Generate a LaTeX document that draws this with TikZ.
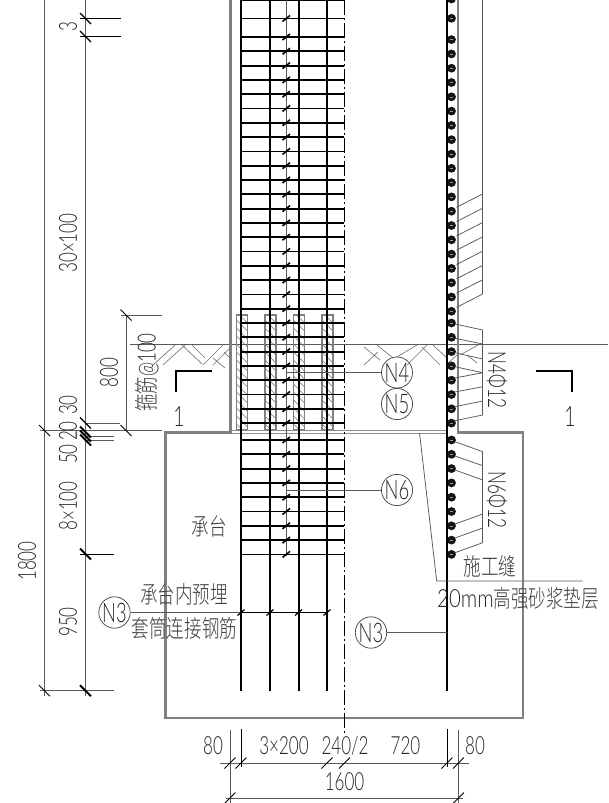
\documentclass[tikz,border=0pt]{standalone}
\usepackage{fontspec}
\newfontfamily\cad[FakeStretch=0.68]{Lato Light}
\newfontfamily\cjk[FakeStretch=0.73]{Noto Sans CJK SC Light}
\tikzset{
  x=1pt,y=-1pt,
  thinl/.style={line width=0.75pt,draw=black!65},
  blackl/.style={line width=0.8pt,draw=black},
  heavy/.style={line width=2pt,draw=black},
  greyl/.style={line width=2.2pt,draw=black!50},
  hatchl/.style={line width=0.65pt,draw=black!55},
  txt/.style={inner sep=0pt,text=black!85,font=\cad\fontsize{25}{25}\selectfont},
  cn/.style={inner sep=0pt,text=black!75,font=\cjk\fontsize{24}{24}\selectfont},
  ncirc/.style={circle,draw=black!70,line width=0.75pt,minimum size=31pt,inner sep=0pt,text=black!85,font=\cad\fontsize{27}{27}\selectfont},
  slashl/.style={line width=1.6pt,draw=black},
}
\newcommand{\tickb}[3]{\draw[line width=#3,draw=black] (#1-5.5,#2-5.5) -- (#1+5.5,#2+5.5);}
\newcommand{\tickf}[2]{\draw[blackl,line width=1pt] (#1-5.5,#2+5.5) -- (#1+5.5,#2-5.5);}
\newcommand{\rdot}[1]{\fill[black!92] (451.5,#1) circle (4.4);\draw[black!40,line width=.6pt] (450,#1) -- (453,#1);}
\begin{document}
\begin{tikzpicture}
\useasboundingbox (0,0) rectangle (608,803);
\clip (0,0) rectangle (608,803);
\fill[white] (0,0) rectangle (608,803);
% ground
\draw[thinl] (130,344) -- (608,344);
\draw[hatchl] (153,365)--(175,345) (163,365)--(185,345) (182,345)--(202,364) (192,345)--(205,358)
  (203,365)--(223,345) (213,365)--(230,348) (213,358)--(225,368) (224,352)--(232,360);
\draw[hatchl] (364,347)--(380,360) (377,345)--(393,358) (364,365)--(378,352)
  (407,365)--(427,345) (397,357)--(417,345) (422,347)--(440,365) (433,345)--(447,358)
  (448,363)--(457,355) (460,355)--(478,345) (467,355)--(477,363);
% sleeves
\foreach \sx in {236.5,265,293.5,322}{
  \begin{scope}
  \clip (\sx,315) rectangle (\sx+11,430);
  \foreach \k in {0,...,15}{\draw[hatchl] (\sx-3,309+\k*8) -- (\sx+13,325+\k*8);}
  \end{scope}
  \draw[line width=1.8pt,draw=black!50] (\sx,315) rectangle (\sx+11,430);
}
% cap and column
\draw[greyl] (230.5,0) -- (230.5,432.5) -- (165.5,432.5) -- (165.5,718) -- (523,718) -- (523,432.5) -- (458,432.5) -- (458,0);
\draw[line width=0.9pt,draw=black!45] (232,430) -- (447,430) (232,433) -- (447,433);
% stirrups
\foreach \yy in {0,18.5}{\draw[heavy,line width=1.8pt] (241,\yy) -- (344,\yy);}
\foreach \k in {0,...,27}{\draw[heavy,line width=1.8pt] (241,37+\k*14.3) -- (344,37+\k*14.3);}
\foreach \k in {0,...,8}{\draw[heavy,line width=1.8pt] (241,440+\k*14.3) -- (344,440+\k*14.3);}
% bars
\foreach \bx in {241,270,298.5,327}{\draw[heavy] (\bx,0) -- (\bx,690.5);}
\draw[heavy] (447,0) -- (447,690.5);
% centre line
\draw[line width=0.8pt,draw=black,dash pattern=on 15pt off 3pt on 2pt off 3pt] (344.5,0) -- (344.5,733);
% thin bar and ties
\draw[thinl] (286,0) -- (286,556);
\foreach \yy in {18.5}{\draw[slashl] (282.5,\yy+3) -- (290,\yy-3);}
\foreach \k in {0,...,27}{\draw[slashl] (282.5,40+\k*14.3) -- (290,34+\k*14.3);}
\foreach \k in {0,...,8}{\draw[slashl] (282.5,443+\k*14.3) -- (290,437+\k*14.3);}
% dots
\rdot{-1}\rdot{18.3}
\foreach \k in {0,...,19}{\rdot{311.3-\k*14.3}}
\foreach \k in {0,...,7}{\rdot{323+\k*14.3}}
\foreach \k in {0,...,8}{\rdot{440+\k*14.3}}
% leaders N4/N6
\draw[thinl] (482.5,0) -- (482.5,294);
\foreach \k in {0,...,7}{\draw[thinl] (456.5,207.3+\k*14.3) -- (482.5,194+\k*14.3);}
\draw[thinl] (482.7,330) -- (482.7,415);
\draw[thinl] (455,324)--(482.7,330) (455,338.3)--(482.7,344) (455,352.7)--(482.7,359) (455,366.7)--(482.7,372.7)
  (455,378)--(482.7,372.7) (455,392)--(482.7,386.7) (455,406.7)--(482.7,401) (455,420.7)--(482.7,415);
\draw[thinl] (482.7,451.7) -- (482.7,542.7);
\draw[thinl] (455,441.7)--(482.7,451.7) (455,456)--(482.7,465.7) (455,470)--(482.7,480)
  (455,524)--(482.7,514) (455,538)--(482.7,528) (455,552.7)--(482.7,542.7);
% dimension lines
\draw[thinl] (44.5,0) -- (44.5,696) (85.5,0) -- (85.5,696);
\draw[blackl] (80,18.5) -- (121,18.5) (80,36.5) -- (121,36.5);
\draw[thinl] (85.5,423) -- (120,423) (85.5,436) -- (114,436) (85.5,440) -- (114,440);
\draw[thinl] (40,430.5) -- (162,430.5);
\draw[blackl] (80,554) -- (114,554);
\draw[thinl] (40,690.7) -- (114,690.7);
\draw[thinl] (126,315) -- (126,430.5) (121,315) -- (162,315);
\tickb{85.5}{18.5}{1.1pt}\tickb{85.5}{36.5}{1.1pt}
\tickb{85.5}{423}{1.1pt}\tickb{85.5}{432}{2pt}\tickb{85.5}{436}{2pt}\tickb{85.5}{440}{2pt}
\tickb{85.5}{554}{2pt}\tickb{85.5}{690.7}{2pt}
\tickb{44.5}{430.5}{1pt}\tickb{44.5}{690.7}{1pt}
\tickb{126}{315}{1pt}\tickb{126}{430.5}{1pt}
% bottom dims
\draw[thinl] (220,763) -- (469,763) (226,798) -- (463,798);
\draw[thinl] (230,730) -- (230,803) (458.5,730) -- (458.5,803);
\draw[blackl] (241,729) -- (241,767) (447,729) -- (447,767);
\foreach \tx in {230,241,327,344.5,447,458.5}{\tickf{\tx}{763}}
\tickf{230}{798}\tickf{458.5}{798}
% section marks
\draw[line width=1.1pt,draw=black] (212,371) -- (176,371) -- (176,392);
\draw[line width=1.1pt,draw=black] (536,371) -- (572,371) -- (572,392);
% embedded row
\coordinate (bar1) at (241,612.5);
\coordinate (bar4) at (327,612.5);
\coordinate (t4) at (286,372.5);
\coordinate (t6) at (286,490);
\coordinate (r3) at (447,632.5);
\node[ncirc] (n3a) at (114.5,612.5) {N3};
\node[ncirc] (n3b) at (371,632.5) {N3};
\node[ncirc] (n4) at (397,372.5) {N4};
\node[ncirc] (n5) at (397,404) {N5};
\node[ncirc] (n6) at (397,490) {N6};
\draw[thinl] (n3a) -- (bar1);
\draw[blackl] (bar1) -- (bar4);
\foreach \tx in {241,270,298.5,327}{\draw[slashl,line width=1.2pt] (\tx-3.5,615.5) -- (\tx+3.5,609.5);}
\draw[thinl] (n3b) -- (r3);
\draw[thinl] (n4) -- (t4);
\draw[thinl] (n6) -- (t6);
% seam leader
\coordinate (s1) at (419.5,433);
\coordinate (s2) at (436.7,581);
\coordinate (s3) at (582.7,581);
\draw[thinl] (s1) -- (s2) -- (s3);
% texts
\node[txt,rotate=90] (a1) at (68,27) {3};
\node[txt,rotate=90] (a2) at (68,243) {30×100};
\node[txt,rotate=90] (a3) at (109,372.5) {800};
\node[txt,rotate=90] (a4) at (68,405) {30};
\node[txt,rotate=90] (a5) at (68,431) {20};
\node[txt,rotate=90] (a6) at (68,454) {50};
\node[txt,rotate=90] (a7) at (68,506) {8×100};
\node[txt,rotate=90] (a8) at (68,622) {950};
\node[txt,rotate=90] (a9) at (27,561) {1800};
\node[inner sep=0pt,rotate=90] (a10) at (147,372.5) {{\cjk\fontsize{24}{24}\selectfont\color{black!75}箍筋}{\cad\fontsize{25}{25}\selectfont\color{black!85}@100}};
\node[txt] (b1) at (213,746) {80};
\node[txt] (b2) at (284,746) {3×200};
\node[txt] (b3) at (345,746) {240/2};
\node[txt] (b4) at (405.5,746) {720};
\node[txt] (b5) at (475,746) {80};
\node[txt] (b6) at (344.5,782) {1600};
\node[txt,font=\cad\fontsize{28}{28}\selectfont] (s1t) at (179,417) {1};
\node[txt,font=\cad\fontsize{28}{28}\selectfont] (s2t) at (570,417) {1};
\node[txt,rotate=-90] (c1) at (497,380) {N4Φ12};
\node[txt,rotate=-90] (c2) at (497,500) {N6Φ12};
\node[cn] (d1) at (209.5,526) {承台};
\node[cn] (d2) at (184,594) {承台内预埋};
\node[cn] (d3) at (184.5,628.5) {套筒连接钢筋};
\node[cn] (d4) at (490,566) {施工缝};
\node[inner sep=0pt] (d5) at (518,598) {{\cad\fontsize{25}{25}\selectfont\color{black!85}\scalebox{1.2}[1]{20mm}}{\cjk\fontsize{24}{24}\selectfont\color{black!75}高强砂浆垫层}};
\end{tikzpicture}
\end{document}
